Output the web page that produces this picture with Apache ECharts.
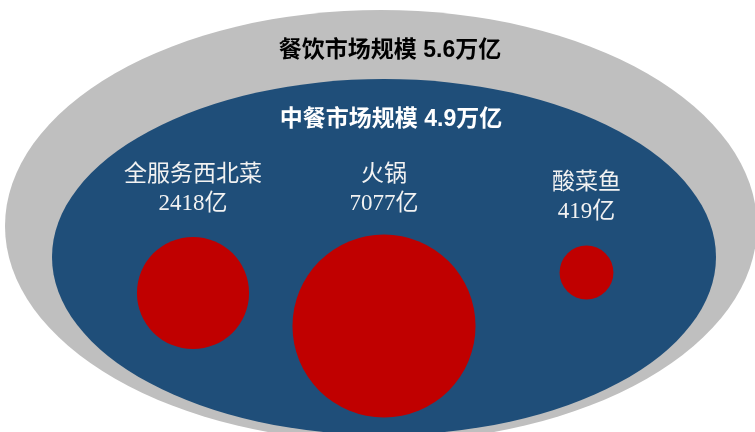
<!DOCTYPE html>
<html>
<head>
<meta charset="utf-8">
<script src="https://cdn.jsdelivr.net/npm/echarts@6/dist/echarts.min.js"></script>
<style>html,body{margin:0;padding:0;background:#fff}#c{width:755px;height:432px}</style>
</head>
<body>
<div id="c"></div>
<script>
// ---- data ----
const marketNames = ['餐饮市场规模', '中餐市场规模'];
const marketValues = [5.6, 4.9];          // 万亿
const dishNames = ['全服务西北菜', '火锅', '酸菜鱼'];
const dishValues = [2418, 7077, 419];     // 亿

// ---- layout (chart space = pixel-like units) ----
const marketLayout = [
  { c: [381, 226], size: [752, 432], rotate: 0, color: '#bfbfbf', text: '#000000', offset: [9, -175] },
  { c: [384, 257], size: [664, 356], rotate: 0, color: '#1f4e79', text: '#ffffff', offset: [7, -137] }
];
const dishLayout = [
  { c: [193, 293], dist: 18 },
  { c: [384, 326], dist: 16 },
  { c: [586.5, 272.5], dist: 19 }
];

const chart = echarts.init(document.getElementById('c'), null, { renderer: 'canvas' });

const marketSeries = marketNames.map((name, i) => ({
  type: 'scatter',
  name: name,
  silent: true,
  z: 1 + i,
  symbol: 'circle',
  symbolSize: marketLayout[i].size,
  symbolRotate: marketLayout[i].rotate,
  itemStyle: { color: marketLayout[i].color, opacity: 1 },
  label: {
    show: true,
    position: 'inside',
    offset: marketLayout[i].offset,
    formatter: () => name + ' ' + marketValues[i] + '万亿',
    color: marketLayout[i].text,
    fontSize: 23,
    fontWeight: 'bold',
    fontFamily: "'Liberation Sans', Arial, 'Noto Sans CJK SC', sans-serif"
  },
  data: [{ value: marketLayout[i].c.concat([marketValues[i]]) }]
}));

const dishSeries = {
  type: 'scatter',
  name: '细分品类',
  silent: true,
  z: 5,
  symbol: 'circle',
  symbolSize: (val) => 12.3 + 2.03 * Math.sqrt(val[2]),
  itemStyle: { color: '#c00000', opacity: 1 },
  label: {
    show: true,
    position: 'top',
    color: '#f2f2f2',
    fontSize: 23,
    lineHeight: 29,
    align: 'center',
    fontFamily: "'Liberation Serif', 'Noto Sans CJK SC', serif",
    formatter: (p) => dishNames[p.dataIndex] + '\n' + dishValues[p.dataIndex] + '亿'
  },
  data: dishValues.map((v, i) => ({
    value: dishLayout[i].c.concat([v]),
    label: { distance: dishLayout[i].dist }
  }))
};

chart.setOption({
  animation: false,
  backgroundColor: '#ffffff',
  grid: { left: 0, right: 0, top: 0, bottom: 0 },
  xAxis: { type: 'value', min: 0, max: 755, show: false },
  yAxis: { type: 'value', min: 0, max: 432, inverse: true, show: false },
  series: marketSeries.concat([dishSeries])
});
</script>
</body>
</html>
